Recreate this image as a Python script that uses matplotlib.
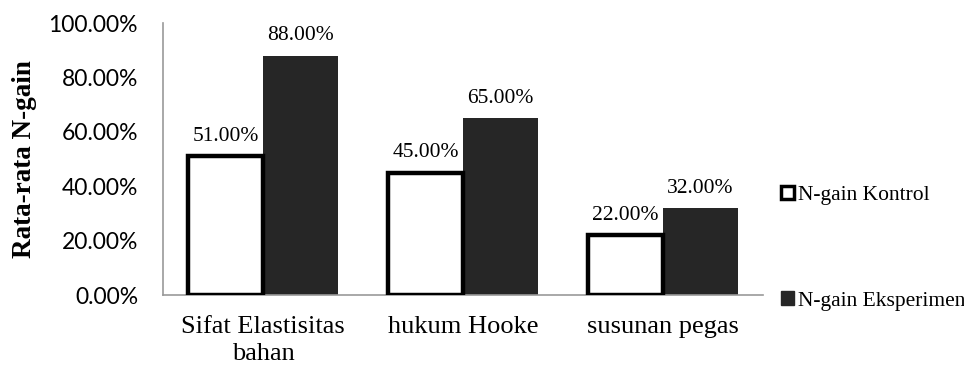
import matplotlib
matplotlib.use("Agg")
import matplotlib.pyplot as plt
from matplotlib.patches import Patch
from matplotlib.ticker import FuncFormatter
import numpy as np

categories = ["Sifat Elastisitas\nbahan", "hukum Hooke", "susunan pegas"]
kontrol = [0.51, 0.45, 0.22]
eksperimen = [0.88, 0.65, 0.32]
series_names = ["N-gain Kontrol", "N-gain Eksperimen"]
yticks = [0.0, 0.2, 0.4, 0.6, 0.8, 1.0]

serif = ["Liberation Serif", "DejaVu Serif"]
dark = "#262626"

fig = plt.figure(figsize=(9.64, 3.67), dpi=100)
ax = fig.add_axes([163/964, 1-295/367, 600/964, (295-23)/367])

x = np.arange(len(categories))
w = 0.375
b1 = ax.bar(x - w/2, kontrol, w, facecolor="white", edgecolor="black", linewidth=3.2, zorder=3)
b2 = ax.bar(x + w/2, eksperimen, w, facecolor=dark, edgecolor=dark, linewidth=0, zorder=2)

for rect, v in zip(list(b1) + list(b2), kontrol + eksperimen):
    ax.annotate(f"{v*100:.2f}%", (rect.get_x() + rect.get_width()/2, v),
                xytext=(0, 7.5), textcoords="offset points", ha="center", va="bottom",
                fontsize=15.5, family=serif)

ax.set_xlim(-0.5, 2.5)
ax.set_ylim(0, 1.0)
ax.set_yticks(yticks)
ax.yaxis.set_major_formatter(FuncFormatter(lambda v, p: f"{v*100:.2f}%"))
ax.set_xticks(x)
ax.set_xticklabels(categories, fontsize=19, family=serif, linespacing=1.3)
for lab in ax.get_yticklabels():
    lab.set_fontfamily(["Lato", "DejaVu Sans"])
    lab.set_fontsize(16.5)
ax.tick_params(axis="both", length=0)
ax.tick_params(axis="x", pad=15)
ax.tick_params(axis="y", pad=18)
for s in ["top", "right"]:
    ax.spines[s].set_visible(False)
for s in ["left", "bottom"]:
    ax.spines[s].set_color("#999999")
    ax.spines[s].set_linewidth(1.2)
ax.set_ylabel("Rata-rata N-gain", fontsize=19.5, family=serif, fontweight="bold")
ax.yaxis.set_label_coords(-0.21, 0.5, transform=ax.transAxes)

handles = [Patch(facecolor="white", edgecolor="black", linewidth=2.5),
           Patch(facecolor=dark, edgecolor=dark)]
fig.legend(handles, series_names, loc="upper left", bbox_to_anchor=(772/964, 1-177/367),
           frameon=False, prop={"family": serif, "size": 15.5}, handlelength=0.6,
           handleheight=0.6, handletextpad=0.2, labelspacing=4.0, borderaxespad=0)

fig.savefig("out.png", dpi=100)
